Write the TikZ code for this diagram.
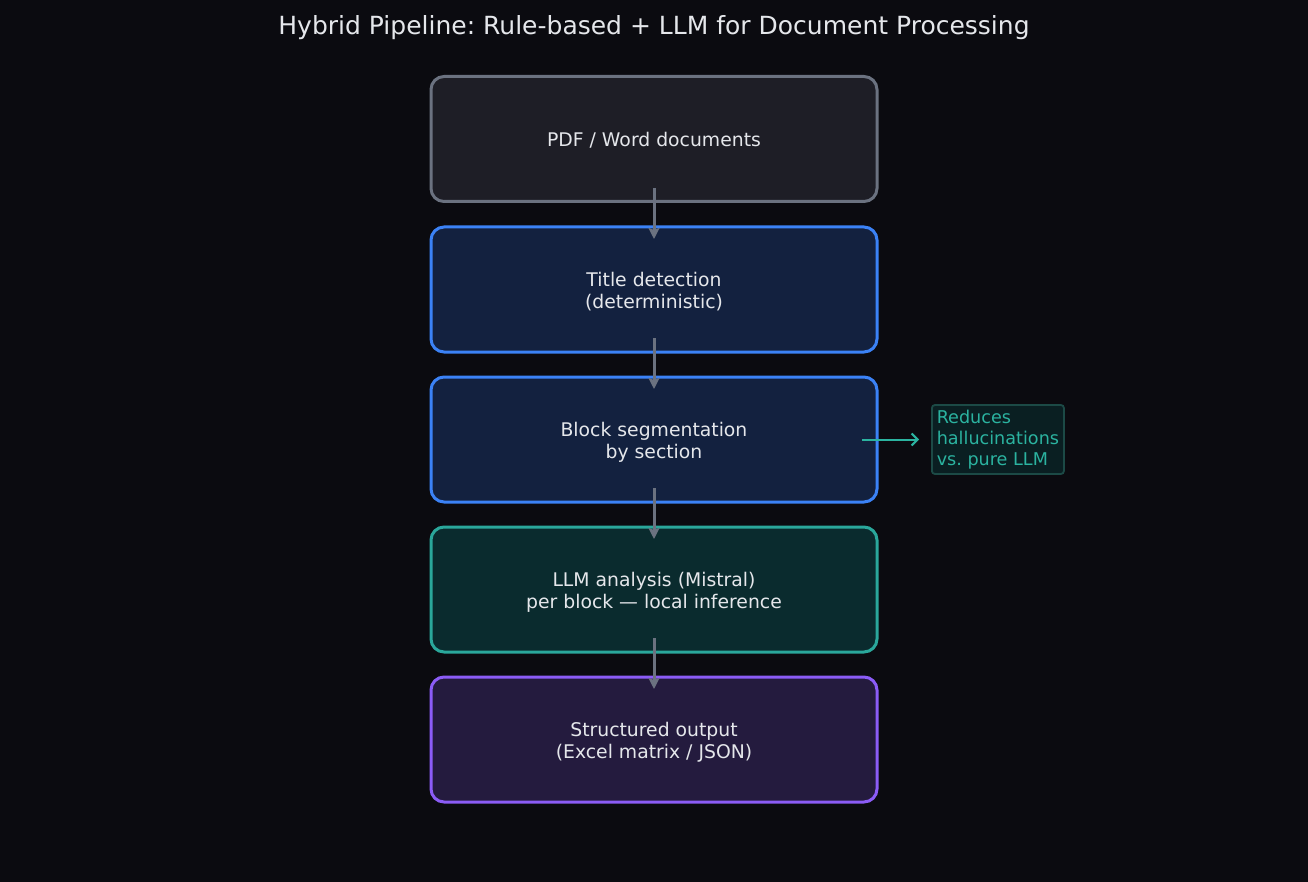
\documentclass[tikz,border=0pt]{standalone}
\usepackage{fontspec}
\setmainfont{DejaVu Sans}
\frenchspacing
\usetikzlibrary{arrows.meta}
\definecolor{bg}{HTML}{0B0B10}
\definecolor{txt}{HTML}{E5E7EB}
\definecolor{gfill}{HTML}{1E1E26}
\definecolor{gline}{HTML}{6B7280}
\definecolor{bfill}{HTML}{13213F}
\definecolor{bline}{HTML}{3B82F6}
\definecolor{tfill}{HTML}{0A2B2E}
\definecolor{tline}{HTML}{2AA79B}
\definecolor{pfill}{HTML}{241B3E}
\definecolor{pline}{HTML}{8B5CF6}
\definecolor{nfill}{HTML}{0A1F22}
\definecolor{nline}{HTML}{1C4A46}
\definecolor{ntxt}{HTML}{2BB3A0}
\newcommand{\stg}[1]{\raisebox{-3.5pt}[\height][\depth]{\begin{tabular}{@{}c@{}}#1\end{tabular}}}
\begin{document}
\begin{tikzpicture}[x=1pt,y=-1pt,
  stage/.style={draw, line width=3pt, rounded corners=13pt, minimum width=446pt, minimum height=125pt,
    text=txt, align=center, font=\fontsize{18.8}{22}\selectfont, inner sep=0pt},
  flow/.style={draw=gline, line width=3pt, -{Stealth[length=11pt,width=11pt,inset=2pt]}},
  sidearrow/.style={draw=ntxt, line width=2pt, -{Straight Barb[length=6pt,width=12pt]}},
  note/.style={draw=nline, fill=nfill, line width=1.8pt, rounded corners=3pt, text=ntxt,
    align=left, font=\fontsize{17.6}{21}\selectfont, inner xsep=4pt, inner ysep=3pt,
    minimum width=132pt, minimum height=69pt, anchor=west}]
\fill[bg] (0,0) rectangle (1308,882);
\useasboundingbox (0,0) rectangle (1308,882);
\node[text=txt, font=\fontsize{25}{30}\selectfont] (title) at (654,28) {Hybrid Pipeline: Rule-based + LLM for Document Processing};
\node[stage, draw=gline, fill=gfill] (s1) at (654,139) {\stg{PDF / Word documents}};
\node[stage, draw=bline, fill=bfill] (s2) at (654,289.5) {\stg{Title detection\\(deterministic)}};
\node[stage, draw=bline, fill=bfill] (s3) at (654,439.5) {\stg{Block segmentation\\by section}};
\node[stage, draw=tline, fill=tfill] (s4) at (654,589.5) {\stg{LLM analysis (Mistral)\\per block — local inference}};
\node[stage, draw=pline, fill=pfill] (s5) at (654,739.5) {\stg{Structured output\\(Excel matrix / JSON)}};
\node[note] (n) at (931,439.5) {Reduces\\hallucinations\\vs. pure LLM};
\coordinate (a1s) at (654,188); \coordinate (a1e) at (654,239);
\coordinate (a2s) at (654,338); \coordinate (a2e) at (654,389);
\coordinate (a3s) at (654,488); \coordinate (a3e) at (654,539);
\coordinate (a4s) at (654,638); \coordinate (a4e) at (654,689);
\draw[flow] (a1s) -- (a1e);
\draw[flow] (a2s) -- (a2e);
\draw[flow] (a3s) -- (a3e);
\draw[flow] (a4s) -- (a4e);
\coordinate (ss) at (862,439.5);
\coordinate (se) at (919,439.5);
\draw[sidearrow] (ss) -- (se);
\end{tikzpicture}
\end{document}
